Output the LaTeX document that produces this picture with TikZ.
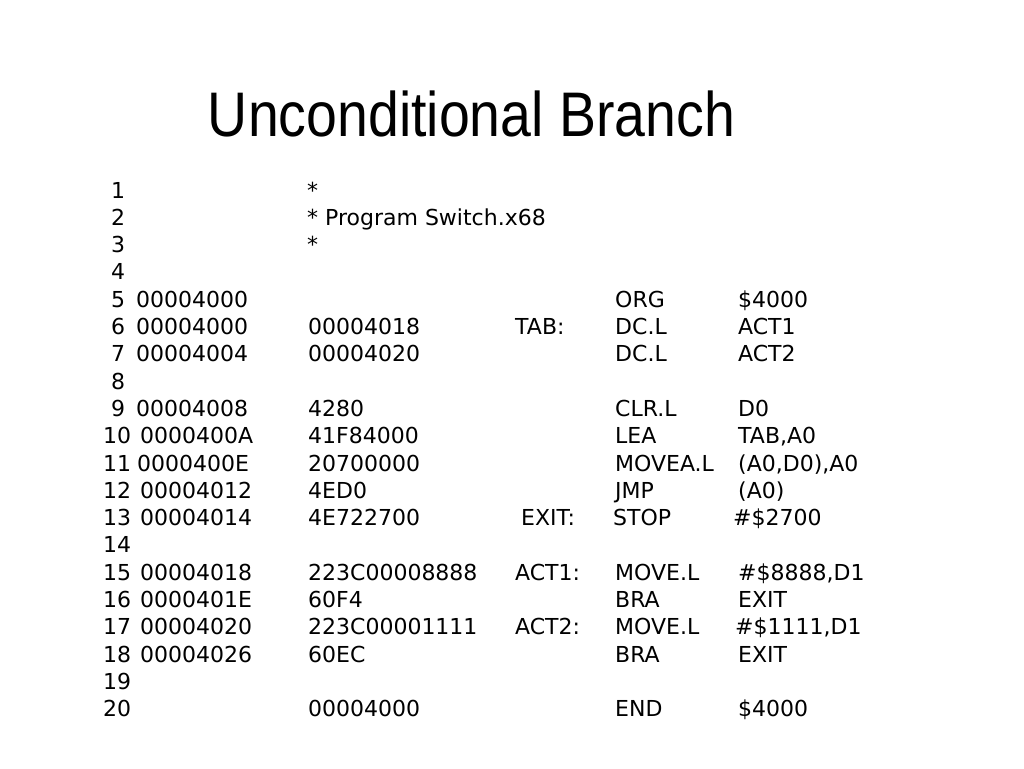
\documentclass[tikz,border=0pt]{standalone}
\usepackage{fontspec}
\setmainfont{DejaVu Sans}
\newfontfamily\titlefont{Liberation Sans}
\tikzset{
  cell/.style={anchor=base west, inner sep=0pt, font=\fontsize{22}{24}\selectfont},
  slidetitle/.style={anchor=base, inner sep=0pt, font=\titlefont\fontsize{63}{70}\selectfont}
}
\begin{document}
\begin{tikzpicture}[x=1pt,y=-1pt]
\useasboundingbox[fill=white] (0,0) rectangle (1024,768);
\node[slidetitle] (title) at (471.5,136) {\resizebox{527pt}{\height}{Unconditional Branch}};
% line numbers
\node[cell] (n1) at (111,198) {1};
\node[cell] (n2) at (111,225.3) {2};
\node[cell] (n3) at (111,252.6) {3};
\node[cell] (n4) at (111,279.9) {4};
\node[cell] (n5) at (111,307.2) {5};
\node[cell] (n6) at (111,334.5) {6};
\node[cell] (n7) at (111,361.8) {7};
\node[cell] (n8) at (111,389.1) {8};
\node[cell] (n9) at (111,416.4) {9};
\node[cell] (n10) at (103,443.7) {10};
\node[cell] (n11) at (103,471) {11};
\node[cell] (n12) at (103,498.3) {12};
\node[cell] (n13) at (103,525.6) {13};
\node[cell] (n14) at (103,552.9) {14};
\node[cell] (n15) at (103,580.2) {15};
\node[cell] (n16) at (103,607.5) {16};
\node[cell] (n17) at (103,634.8) {17};
\node[cell] (n18) at (103,662.1) {18};
\node[cell] (n19) at (103,689.4) {19};
\node[cell] (n20) at (103,716.7) {20};
% addresses
\node[cell] (a5) at (136,307.2) {00004000};
\node[cell] (a6) at (136,334.5) {00004000};
\node[cell] (a7) at (136,361.8) {00004004};
\node[cell] (a9) at (136,416.4) {00004008};
\node[cell] (a10) at (140,443.7) {0000400A};
\node[cell] (a11) at (137,471) {0000400E};
\node[cell] (a12) at (140,498.3) {00004012};
\node[cell] (a13) at (140,525.6) {00004014};
\node[cell] (a15) at (140,580.2) {00004018};
\node[cell] (a16) at (140,607.5) {0000401E};
\node[cell] (a17) at (140,634.8) {00004020};
\node[cell] (a18) at (140,662.1) {00004026};
% code / comments
\node[cell] (c1) at (307,198) {*};
\node[cell] (c2) at (307,225.3) {* Program Switch.x68};
\node[cell] (c3) at (307,252.6) {*};
\node[cell] (c6) at (308,334.5) {00004018};
\node[cell] (c7) at (308,361.8) {00004020};
\node[cell] (c9) at (308,416.4) {4280};
\node[cell] (c10) at (308,443.7) {41F84000};
\node[cell] (c11) at (308,471) {20700000};
\node[cell] (c12) at (308,498.3) {4ED0};
\node[cell] (c13) at (308,525.6) {4E722700};
\node[cell] (c15) at (308,580.2) {223C00008888};
\node[cell] (c16) at (308,607.5) {60F4};
\node[cell] (c17) at (308,634.8) {223C00001111};
\node[cell] (c18) at (308,662.1) {60EC};
\node[cell] (c20) at (308,716.7) {00004000};
% labels
\node[cell] (l6) at (515,334.5) {TAB:};
\node[cell] (l13) at (521,525.6) {EXIT:};
\node[cell] (l15) at (515,580.2) {ACT1:};
\node[cell] (l17) at (515,634.8) {ACT2:};
% mnemonics
\node[cell] (m5) at (615,307.2) {ORG};
\node[cell] (m6) at (615,334.5) {DC.L};
\node[cell] (m7) at (615,361.8) {DC.L};
\node[cell] (m9) at (615,416.4) {CLR.L};
\node[cell] (m10) at (615,443.7) {LEA};
\node[cell] (m11) at (615,471) {MOVEA.L};
\node[cell] (m12) at (615,498.3) {JMP};
\node[cell] (m13) at (613,525.6) {STOP};
\node[cell] (m15) at (615,580.2) {MOVE.L};
\node[cell] (m16) at (615,607.5) {BRA};
\node[cell] (m17) at (615,634.8) {MOVE.L};
\node[cell] (m18) at (615,662.1) {BRA};
\node[cell] (m20) at (615,716.7) {END};
% operands
\node[cell] (o5) at (738,307.2) {\$4000};
\node[cell] (o6) at (738,334.5) {ACT1};
\node[cell] (o7) at (738,361.8) {ACT2};
\node[cell] (o9) at (738,416.4) {D0};
\node[cell] (o10) at (738,443.7) {TAB,A0};
\node[cell] (o11) at (738,471) {(A0,D0),A0};
\node[cell] (o12) at (738,498.3) {(A0)};
\node[cell] (o13) at (733,525.6) {\#\$2700};
\node[cell] (o15) at (738,580.2) {\#\$8888,D1};
\node[cell] (o16) at (738,607.5) {EXIT};
\node[cell] (o17) at (735,634.8) {\#\$1111,D1};
\node[cell] (o18) at (738,662.1) {EXIT};
\node[cell] (o20) at (738,716.7) {\$4000};
\end{tikzpicture}
\end{document}
